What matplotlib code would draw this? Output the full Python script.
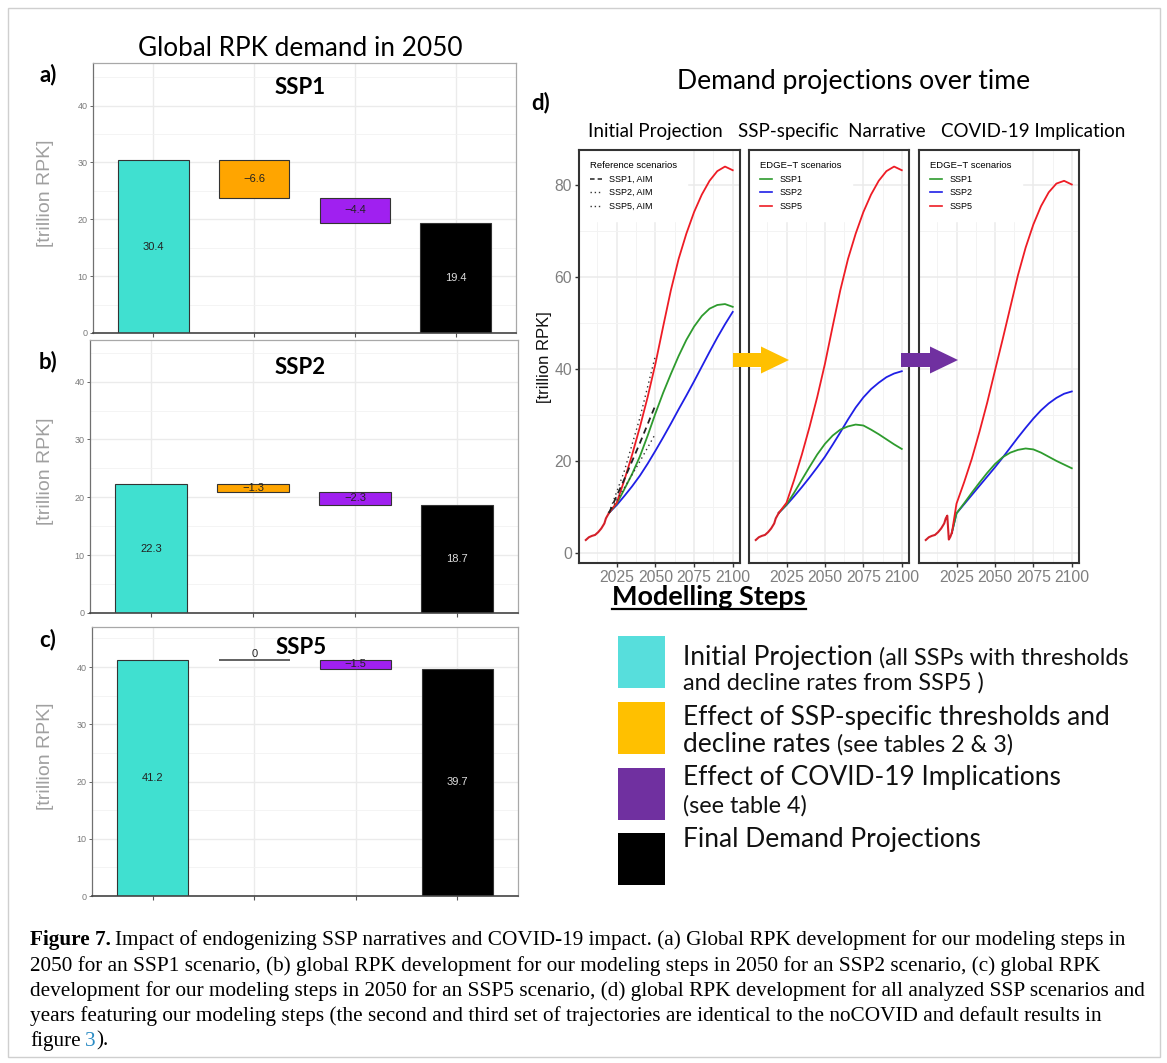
import matplotlib
matplotlib.use('Agg')
import matplotlib.pyplot as plt
from matplotlib.patches import Rectangle, Polygon
from matplotlib.lines import Line2D

W, H = 1167, 1063
fig = plt.figure(figsize=(W / 100, H / 100), dpi=100)
fig.patch.set_facecolor('white')

SANS = ['Liberation Sans', 'DejaVu Sans']
HUM = ['Lato', 'DejaVu Sans']
SERIF = ['Liberation Serif', 'DejaVu Serif']

# ---------------- data ----------------
wf_steps = ['Initial Projection', 'SSP-specific thresholds', 'COVID-19 implications', 'Final demand']
wf_ssp1 = [30.4, -6.6, -4.4, 19.4]
wf_ssp2 = [22.3, -1.3, -2.3, 18.7]
wf_ssp5 = [41.2, 0.0, -1.5, 39.7]
wf_colors = ['#40E0D0', '#FFA500', '#A020F0', '#000000']

hist_years = [2005, 2007, 2009, 2011, 2013, 2015, 2017, 2018, 2019, 2020]
hist_rpk = [2.9, 3.5, 3.8, 4.0, 4.6, 5.4, 6.5, 7.6, 8.2, 8.8]
hist_covid_years = [2005, 2007, 2009, 2011, 2013, 2015, 2017, 2018, 2019, 2020, 2021, 2022]
hist_covid_rpk = [2.9, 3.5, 3.8, 4.0, 4.6, 5.4, 6.5, 7.6, 8.2, 3.0, 3.6, 4.5]

proj_years = [2020, 2025, 2030, 2035, 2040, 2045, 2050, 2055, 2060,
              2065, 2070, 2075, 2080, 2085, 2090, 2095, 2100]
init_ssp1 = [8.8, 10.8, 14.0, 17.3, 21.1, 25.6, 30.4, 34.9, 39.0, 42.9, 46.4, 49.3, 51.6, 53.2, 54.0, 54.2, 53.6]
init_ssp2 = [8.8, 10.5, 12.5, 14.6, 16.9, 19.5, 22.3, 25.2, 28.2, 31.3, 34.3, 37.4, 40.6, 43.8, 46.9, 49.8, 52.5]
init_ssp5 = [8.8, 11.0, 16.0, 21.5, 27.5, 34.0, 41.2, 49.3, 57.2, 64.0, 69.5, 74.2, 78.0, 81.0, 83.1, 84.1, 83.3]
nar_ssp1 = [8.8, 10.6, 13.2, 16.0, 18.8, 21.5, 23.8, 25.6, 26.9, 27.6, 28.0, 27.8, 26.9, 25.9, 24.8, 23.7, 22.7]
nar_ssp2 = [8.8, 10.5, 12.4, 14.4, 16.5, 18.7, 21.0, 23.6, 26.3, 29.1, 31.7, 33.9, 35.7, 37.1, 38.3, 39.1, 39.6]
nar_ssp5 = [8.8, 11.0, 16.0, 21.5, 27.5, 34.0, 41.2, 49.3, 57.2, 64.0, 69.5, 74.2, 78.0, 81.0, 83.1, 84.1, 83.3]
covid_years = [2022, 2025, 2030, 2035, 2040, 2045, 2050, 2055, 2060,
               2065, 2070, 2075, 2080, 2085, 2090, 2095, 2100]
cov_ssp1 = [4.5, 8.7, 10.9, 13.2, 15.4, 17.5, 19.4, 20.9, 21.9, 22.5, 22.8, 22.6, 21.9, 21.0, 20.1, 19.3, 18.5]
cov_ssp2 = [4.5, 8.7, 10.7, 12.7, 14.7, 16.7, 18.7, 20.8, 23.0, 25.2, 27.3, 29.3, 31.1, 32.6, 33.8, 34.7, 35.2]
cov_ssp5 = [4.5, 10.8, 15.5, 20.6, 26.5, 32.8, 39.7, 46.5, 53.5, 60.5, 66.5, 71.5, 75.5, 78.5, 80.4, 81.0, 80.2]

aim_years = [2020, 2030, 2040, 2050]
aim_ssp1 = [8.8, 16.2, 24.0, 32.2]
aim_ssp2 = [8.8, 14.3, 20.0, 26.0]
aim_ssp5 = [8.8, 18.0, 29.5, 43.0]

facet_titles = ['Initial Projection', 'SSP-specific  Narrative', 'COVID-19 Implication']
year_ticks = [2025, 2050, 2075, 2100]
rpk_ticks = [0, 20, 40, 60, 80]

legend_items = [
    ('#57DEDC', [[('Initial Projection', 'big'), ('(all SSPs with thresholds', 'small')],
                 [('and decline rates from SSP5 )', 'small')]]),
    ('#FFC000', [[('Effect of SSP-specific thresholds and', 'big')],
                 [('decline rates', 'big'), ('(see tables 2 & 3)', 'small')]]),
    ('#7030A0', [[('Effect of COVID-19 Implications', 'big')],
                 [('(see table 4)', 'small')]]),
    ('#000000', [[('Final Demand Projections', 'big')]]),
]

caption_lines = [
    'Impact of endogenizing SSP narratives and COVID-19 impact. (a) Global RPK development for our modeling steps in',
    '2050 for an SSP1 scenario, (b) global RPK development for our modeling steps in 2050 for an SSP2 scenario, (c) global RPK',
    'development for our modeling steps in 2050 for an SSP5 scenario, (d) global RPK development for all analyzed SSP scenarios and',
    'years featuring our modeling steps (the second and third set of trajectories are identical to the noCOVID and default results in',
]

# ---------------- helpers ----------------
renderer = fig.canvas.get_renderer()


def rect(l, t, r, b):
    return [l / W, 1 - b / H, (r - l) / W, (b - t) / H]


def ftext(x, y, s, **kw):
    return fig.text(x / W, 1 - y / H, s, **kw)


def wpx(t):
    return t.get_window_extent(renderer).width


def fit_size(s, target, **kw):
    t = fig.text(0, 0, s, fontsize=20, **kw)
    w = wpx(t)
    t.remove()
    return 20 * target / w


# outer frame
fig.patches.append(Rectangle((8 / W, 1 - 1057 / H), 1152 / W, 1049 / H, transform=fig.transFigure,
                             fill=False, edgecolor='#cfcfcf', lw=1.0))

# ---------------- waterfall panels ----------------
def waterfall(box, vals, ytop, title, tag, title_y, tag_y):
    ax = fig.add_axes(rect(*box))
    ax.set_xlim(0.4, 4.6)
    ax.set_ylim(0, ytop)
    ax.set_xticks([1, 2, 3, 4])
    ax.set_xticklabels([])
    ax.set_yticks([0, 10, 20, 30, 40])
    ax.set_yticks([5, 15, 25, 35, 45], minor=True)
    ax.tick_params(axis='y', which='major', labelsize=6.5, labelcolor='#7a7a7a', color='#666', length=2.5,
                   width=0.7, pad=1.5)
    ax.tick_params(axis='x', which='major', color='#555', length=3, width=0.8)
    ax.tick_params(which='minor', length=0)
    for lab in ax.get_yticklabels():
        lab.set_fontfamily(SANS)
    ax.grid(which='major', color='#EBEBEB', lw=1.0)
    ax.grid(which='minor', axis='y', color='#F2F2F2', lw=0.6)
    ax.set_axisbelow(True)
    for s in ['top', 'right']:
        ax.spines[s].set_color('#a8a8a8')
        ax.spines[s].set_linewidth(0.9)
    ax.spines['left'].set_color('#707070')
    ax.spines['left'].set_linewidth(0.9)
    ax.spines['bottom'].set_color('#444')
    ax.spines['bottom'].set_linewidth(1.2)
    total = 0.0
    for i, v in enumerate(vals):
        x = i + 1
        if i == 0 or i == len(vals) - 1:
            bottom, height = 0, v
            total = v if i == 0 else total
            lab = f'{v:.1f}'
        else:
            bottom, height = total + v, -v
            total = total + v
            lab = '0' if v == 0 else f'{v:.1f}'.replace('-', '\u2212')
        if height == 0:
            ax.plot([x - 0.35, x + 0.35], [bottom, bottom], color='#555', lw=1.3, solid_capstyle='butt')
            ax.text(x, bottom + 0.15, lab, ha='center', va='bottom', fontsize=8, family=SANS, color='#222')
        else:
            ax.bar(x, height, bottom=bottom, width=0.7, color=wf_colors[i], edgecolor='#333', lw=0.8)
            tc = '#dddddd' if wf_colors[i] == '#000000' else '#222222'
            ax.text(x, bottom + height / 2, lab, ha='center', va='center', fontsize=8, family=SANS, color=tc)
    ftext((box[0] + box[2]) / 2 - 4, title_y, title, ha='center', va='center', fontsize=16,
          fontweight='bold', family=HUM)
    ftext(48, tag_y, tag, ha='center', va='center', fontsize=16, fontweight='bold', family=HUM)
    ftext(45, (box[1] + box[3]) / 2 - 5, '[trillion RPK]', rotation=90, ha='center', va='center',
          fontsize=14, family=SANS, color='#a0a0a0')
    return ax


waterfall((93, 63, 516, 333), wf_ssp1, 47.5, 'SSP1', 'a)', 88, 75)
waterfall((90, 340, 518, 613), wf_ssp2, 47.2, 'SSP2', 'b)', 367, 362)
waterfall((92, 627, 518, 896), wf_ssp5, 47.0, 'SSP5', 'c)', 647, 640)

gs = fit_size('Global RPK demand in 2050', 324, family=HUM)
ftext(300, 48, 'Global RPK demand in 2050', ha='center', va='center', fontsize=gs, family=HUM)

# ---------------- panel d ----------------
GREEN, BLUE, RED = '#2E9B2E', '#1F1FE6', '#EE1C25'
facet_px = [(579, 740), (749, 909), (919, 1079)]
TOP, BOT = 150, 563

facet_data = [
    (hist_years, hist_rpk, proj_years, init_ssp1, init_ssp2, init_ssp5),
    (hist_years, hist_rpk, proj_years, nar_ssp1, nar_ssp2, nar_ssp5),
    (hist_covid_years, hist_covid_rpk, covid_years, cov_ssp1, cov_ssp2, cov_ssp5),
]

axes_d = []
for k, ((l, r), (hy, hv, py, s1, s2, s5)) in enumerate(zip(facet_px, facet_data)):
    ax = fig.add_axes(rect(l, TOP, r, BOT))
    axes_d.append(ax)
    ax.set_xlim(2000.6, 2104.7)
    ax.set_ylim(-2.1, 87.7)
    ax.set_xticks(year_ticks)
    ax.set_xticks([2012.5, 2037.5, 2062.5, 2087.5], minor=True)
    ax.set_yticks(rpk_ticks)
    ax.set_yticks([10, 30, 50, 70], minor=True)
    ax.grid(which='major', color='#EBEBEB', lw=1.1)
    ax.grid(which='minor', color='#F3F3F3', lw=0.7)
    ax.set_axisbelow(True)
    for s in ax.spines.values():
        s.set_color('#333333')
        s.set_linewidth(1.5)
    ax.tick_params(which='minor', length=0)
    ax.tick_params(axis='x', which='major', labelsize=11.3, labelcolor='#7f7f7f', color='#333', length=3,
                   width=1.0, pad=2)
    if k == 0:
        ax.tick_params(axis='y', which='major', labelsize=11.3, labelcolor='#7f7f7f', color='#333', length=3,
                       width=1.0, pad=2)
    else:
        ax.tick_params(axis='y', which='major', labelleft=False, length=0)
    for lab in ax.get_xticklabels() + ax.get_yticklabels():
        lab.set_fontfamily(SANS)
    ax.plot(py, s2, color=BLUE, lw=1.3, zorder=3)
    ax.plot(py, s1, color=GREEN, lw=1.3, zorder=3)
    ax.plot(py, s5, color=RED, lw=1.3, zorder=3)
    ax.plot(hy, hv, color='#D4202A', lw=1.5, zorder=3)
    if k == 0:
        ax.plot(aim_years, aim_ssp5, color='#333', lw=1.0, ls=(0, (1, 2.5)), zorder=3)
        ax.plot(aim_years, aim_ssp2, color='#333', lw=1.0, ls=(0, (1, 2.5)), zorder=3)
        ax.plot(aim_years, aim_ssp1, color='#222', lw=1.3, ls=(0, (3.5, 2.5)), zorder=3)
        handles = [Line2D([], [], color='#222', lw=1.1, ls=(0, (3, 2))),
                   Line2D([], [], color='#333', lw=1.0, ls=(0, (1, 2))),
                   Line2D([], [], color='#333', lw=1.0, ls=(0, (1, 2)))]
        labels = ['SSP1, AIM', 'SSP2, AIM', 'SSP5, AIM']
        title = 'Reference scenarios'
    else:
        handles = [Line2D([], [], color=c, lw=1.2) for c in (GREEN, BLUE, RED)]
        labels = ['SSP1', 'SSP2', 'SSP5']
        title = 'EDGE\u2212T scenarios'
    leg = ax.legend(handles, labels, title=title, loc='upper left', bbox_to_anchor=(0.0, 1.0),
                    prop={'family': SANS, 'size': 6.5}, title_fontproperties={'family': SANS, 'size': 6.8},
                    frameon=True, facecolor='white', edgecolor='white', framealpha=1.0, fancybox=False,
                    handlelength=1.3, handletextpad=0.8, labelspacing=0.5, borderpad=1.1, borderaxespad=0.15)
    leg._legend_box.align = 'left'
    leg.set_zorder(1)

ftext(545, 357, '[trillion RPK]', rotation=90, ha='center', va='center', fontsize=12, family=SANS,
      color='#111')

fs_strip = fit_size('Initial Projection', 135, family=HUM)
for title, cx in zip(facet_titles, [655, 832, 1033]):
    ftext(cx, 131, title, ha='center', va='center', fontsize=fs_strip, family=HUM)

ds = fit_size('Demand projections over time', 354, family=HUM)
ftext(677, 82, 'Demand projections over time', ha='left', va='center', fontsize=ds, family=HUM)
ftext(541, 103, 'd)', ha='center', va='center', fontsize=16, fontweight='bold', family=HUM)


def arrow(x0, xh, x1, yc, hs, hh, color):
    pts = [(x0, yc - hs), (xh, yc - hs), (xh, yc - hh), (x1, yc), (xh, yc + hh), (xh, yc + hs), (x0, yc + hs)]
    pts = [(x / W, 1 - y / H) for x, y in pts]
    fig.patches.append(Polygon(pts, closed=True, transform=fig.transFigure, facecolor=color,
                               edgecolor='none', zorder=10))


arrow(733, 761, 789, 360, 7, 13.5, '#FFC000')
arrow(901, 930, 958, 360, 7, 13.5, '#7030A0')

# ---------------- modelling steps legend ----------------
ms = fit_size('Modelling Steps', 194, family=HUM, fontweight='bold')
t = ftext(612, 597, 'Modelling Steps', ha='left', va='center', fontsize=ms, family=HUM, fontweight='bold')
tw = wpx(t)
fig.lines.append(Line2D([612 / W, (612 + tw) / W], [1 - 609 / H, 1 - 609 / H], transform=fig.transFigure,
                        color='black', lw=1.6))

big = fit_size('Effect of SSP-specific thresholds and', 428, family=HUM)
small = fit_size('(all SSPs with thresholds', 250, family=HUM)
sq_tops = [636, 702, 768, 833]
line_ys = [[658, 683], [717, 745], [778, 806], [840]]
for (col, lines), st, ys in zip(legend_items, sq_tops, line_ys):
    fig.patches.append(Rectangle((618 / W, 1 - (st + 52) / H), 47 / W, 52 / H, transform=fig.transFigure,
                                 facecolor=col, edgecolor='none'))
    for parts, y in zip(lines, ys):
        cx = 683
        for s, kind in parts:
            fsz = big if kind == 'big' else small
            tt = ftext(cx, y, s, ha='left', va='center', fontsize=fsz, family=HUM, color='#111')
            cx += wpx(tt) + fsz * 0.35

# ---------------- caption ----------------
cs = fit_size(caption_lines[2], 1115, family=SERIF)
cap_ys = [940, 966, 991, 1016, 1041]
tb = ftext(30, cap_ys[0], 'Figure 7.', ha='left', va='center', fontsize=cs, family=SERIF, fontweight='bold')
ftext(30 + wpx(tb) + cs * 0.3, cap_ys[0], caption_lines[0], ha='left', va='center', fontsize=cs, family=SERIF)
for s, y in zip(caption_lines[1:], cap_ys[1:4]):
    ftext(30, y, s, ha='left', va='center', fontsize=cs, family=SERIF)
t1 = ftext(30, cap_ys[4], 'figure', ha='left', va='center', fontsize=cs, family=SERIF)
x2 = 30 + wpx(t1) + cs * 0.3
t2 = ftext(x2, cap_ys[4], '3', ha='left', va='center', fontsize=cs, family=SERIF, color='#2A8BC4')
ftext(x2 + wpx(t2), cap_ys[4], ').', ha='left', va='center', fontsize=cs, family=SERIF)

fig.savefig('out.png', dpi=100, facecolor='white')
